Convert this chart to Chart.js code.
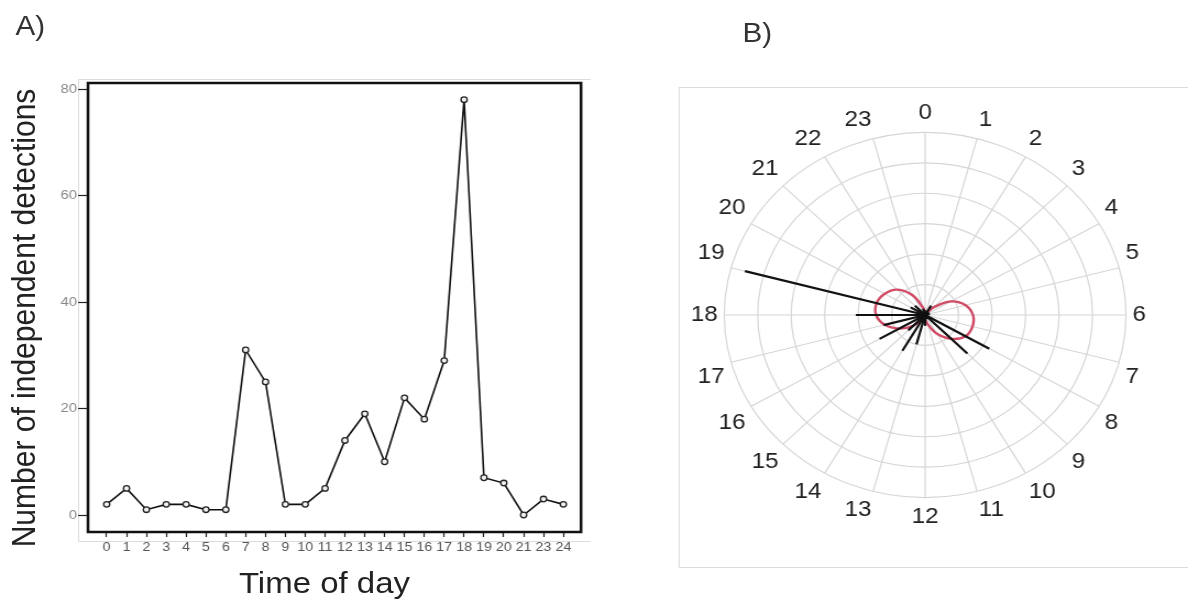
<!DOCTYPE html>
<html>
<head>
<meta charset="utf-8">
<script src="https://cdn.jsdelivr.net/npm/chart.js@4"></script>
<style>
  html, body { margin: 0; padding: 0; background: #fff; overflow: hidden; }
  body { width: 1188px; height: 599px; position: relative; font-family: 'Liberation Sans', Arial, sans-serif; }
  /* the whole figure is a little wider than tall, so draw at 1/1.1 and stretch */
  #wrap { position: absolute; left: 0; top: 0; width: 1080px; height: 599px; transform: scaleX(1.1); transform-origin: 0 0; }
  .frame { position: absolute; border: 1px solid #dcdcdc; box-sizing: border-box; }
  .lbl { position: absolute; line-height: 1; color: #333; white-space: nowrap; }
  canvas { position: absolute; }
</style>
</head>
<body>
<div id="wrap">
  <div class="frame" style="left:71px;top:79px;width:466px;height:463px;border-right:none;"></div>
  <div class="frame" style="left:617px;top:87px;width:480px;height:481px;border-right:none;"></div>

  <div class="lbl" style="left:14px;top:13px;font-size:27px;">A)</div>
  <div class="lbl" style="left:675px;top:20px;font-size:27px;">B)</div>

  <div class="lbl" style="left:-228px;top:303px;width:500px;text-align:center;font-size:30px;color:#222;transform:rotate(-90deg);">Number of independent detections</div>
  <div class="lbl" style="left:145px;top:568px;width:300px;text-align:center;font-size:30px;color:#222;">Time of day</div>

  <canvas id="lineChart" style="left:0px;top:0px;"></canvas>
  <canvas id="clockChart" style="left:619.8px;top:99.5px;"></canvas>
</div>

<script>
// panel A: detections per hour (the original x axis skips 22)
const hourLabels = ['0', '1', '2', '3', '4', '5', '6', '7', '8', '9', '10', '11',
                    '12', '13', '14', '15', '16', '17', '18', '19', '20', '21', '23', '24'];
const detections = [2, 5, 1, 2, 2, 1, 1, 31, 25, 2, 2, 5, 14, 19, 10, 22, 18, 29, 78, 7, 6, 0, 3, 2];
const yTicks = [0, 20, 40, 60, 80];

// panel B: clock face, ray lengths and the smoothed curve
const clockLabels = ['0', '1', '2', '3', '4', '5', '6', '7', '8', '9', '10', '11',
                     '12', '13', '14', '15', '16', '17', '18', '19', '20', '21', '22', '23'];
const rayCounts = [2, 2, 5, 1, 2, 2, 1, 1, 31, 25, 2, 2, 5, 14, 19, 10, 22, 18, 29, 78, 7, 6, 0, 3];
const densityCurve = [1, 0.5, 1, 5, 12.5, 17.5, 20, 20.5, 19.5, 15.5, 10, 4.5,
                      2, 1.5, 2, 7, 12.5, 17.5, 20.5, 21, 19.5, 16.5, 10.5, 3.5];
const radialMax = 84;
const radialStep = 14;

const FONT = "'Liberation Sans', Arial, sans-serif";

// box round the plotting region
const boxPlugin = {
    id: 'box',
    afterDraw(chart) {
        const a = chart.chartArea;
        const ctx = chart.ctx;
        ctx.save();
        ctx.strokeStyle = '#111';
        ctx.lineWidth = 2.5;
        ctx.strokeRect(a.left, a.top, a.right - a.left, a.bottom - a.top);
        ctx.restore();
    }
};

const lineCanvas = document.getElementById('lineChart');
lineCanvas.width = 560;
lineCanvas.height = 600;

new Chart(lineCanvas, {
    type: 'line',
    data: {
        datasets: [{
            data: detections.map((v, i) => ({ x: i, y: v })),
            borderColor: '#111',
            borderWidth: 1.6,
            tension: 0,
            fill: false,
            pointRadius: 2.8,
            pointBorderWidth: 1.3,
            pointBorderColor: '#222',
            pointBackgroundColor: '#f2f2f2'
        }]
    },
    options: {
        responsive: false,
        animation: false,
        layout: { padding: { left: 50, right: 31.8, top: 83, bottom: 43 } },
        plugins: { legend: { display: false }, tooltip: { enabled: false } },
        scales: {
            x: {
                type: 'linear',
                min: -0.94,
                max: 23.89,
                afterFit(scale) { scale.height = 25; },
                border: { display: false },
                grid: { drawOnChartArea: false, drawTicks: true, tickLength: 5, tickColor: '#222', tickWidth: 1.2 },
                ticks: {
                    stepSize: 1,
                    autoSkip: false,
                    maxRotation: 0,
                    padding: 3,
                    color: '#555',
                    font: { size: 13, family: FONT },
                    includeBounds: false,
                    callback: (v) => hourLabels[v] !== undefined ? hourLabels[v] : ''
                }
            },
            y: {
                min: -3.19,
                max: 81.13,
                afterFit(scale) { scale.width = 30; },
                border: { display: false },
                grid: { drawOnChartArea: false, drawTicks: true, tickLength: 9, tickColor: '#222', tickWidth: 1.2 },
                afterBuildTicks(scale) { scale.ticks = yTicks.map(v => ({ value: v })); },
                ticks: {
                    padding: 1,
                    color: '#888',
                    font: { size: 13.5, family: FONT }
                }
            }
        }
    },
    plugins: [boxPlugin]
});

// rays from the centre of the clock, one per hour
const rayPlugin = {
    id: 'rays',
    afterDatasetsDraw(chart) {
        const scale = chart.scales.r;
        const ctx = chart.ctx;
        ctx.save();
        ctx.strokeStyle = '#111';
        ctx.lineWidth = 2.2;
        ctx.lineCap = 'butt';
        rayCounts.forEach((v, i) => {
            if (v <= 0) return;
            const p = scale.getPointPositionForValue(i, v);
            ctx.beginPath();
            ctx.moveTo(scale.xCenter, scale.yCenter);
            ctx.lineTo(p.x, p.y);
            ctx.stroke();
        });
        ctx.restore();
    }
};

const clockCanvas = document.getElementById('clockChart');
clockCanvas.width = 430;
clockCanvas.height = 430;

new Chart(clockCanvas, {
    type: 'radar',
    data: {
        labels: clockLabels,
        datasets: [{
            data: densityCurve,
            borderColor: '#d04b66',
            borderWidth: 2.4,
            pointRadius: 0,
            fill: false,
            tension: 0.35
        }]
    },
    options: {
        responsive: false,
        animation: false,
        plugins: { legend: { display: false }, tooltip: { enabled: false } },
        scales: {
            r: {
                min: 0,
                max: radialMax,
                ticks: { stepSize: radialStep, display: false },
                grid: { circular: true, color: '#d6d6d6', lineWidth: 1.2 },
                angleLines: { color: '#d6d6d6', lineWidth: 1.2 },
                pointLabels: { color: '#222', padding: 6, font: { size: 22, family: FONT } }
            }
        }
    },
    plugins: [rayPlugin]
});
</script>
</body>
</html>
